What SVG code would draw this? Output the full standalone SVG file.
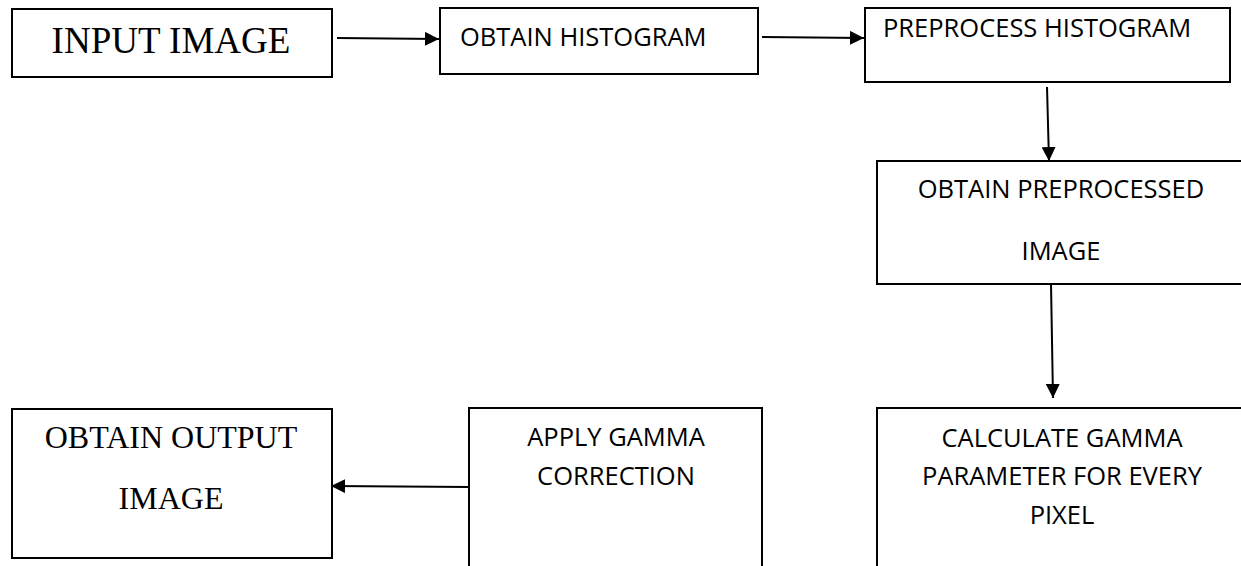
<svg xmlns="http://www.w3.org/2000/svg" width="1241" height="566" viewBox="0 0 1241 566">
<style>
.box{fill:#fff;stroke:#000;stroke-width:2}
.serif{font-family:"Liberation Serif","Times New Roman",serif;fill:#000}
.sans{font-family:"Open Sans","Liberation Sans",sans-serif;font-size:25.5px;fill:#000}
.conn{stroke:#000;stroke-width:2;fill:none;marker-end:url(#ah)}
</style>
<defs>
<marker id="ah" markerUnits="userSpaceOnUse" markerWidth="16" markerHeight="14" refX="14" refY="7" orient="auto">
<path d="M0,0 L14,7 L0,14 Z" fill="#000"/>
</marker>
</defs>
<rect width="1241" height="566" fill="#fff"/>
<g id="n1">
<rect class="box" x="12" y="9" width="320" height="68"/>
<text class="serif" x="171" y="53" font-size="37" text-anchor="middle">INPUT IMAGE</text>
</g>
<g id="n2">
<rect class="box" x="440" y="8" width="318" height="66"/>
<text class="sans" x="460" y="46">OBTAIN HISTOGRAM</text>
</g>
<g id="n3">
<rect class="box" x="865" y="8" width="365" height="74"/>
<text class="sans" x="883" y="37">PREPROCESS HISTOGRAM</text>
</g>
<g id="n4">
<rect class="box" x="877" y="161" width="370" height="123"/>
<text class="sans" x="1061" y="198" text-anchor="middle">OBTAIN PREPROCESSED</text>
<text class="sans" x="1061" y="260" text-anchor="middle">IMAGE</text>
</g>
<g id="n5">
<rect class="box" x="877" y="408" width="370" height="170"/>
<text class="sans" x="1062" y="447" text-anchor="middle">CALCULATE GAMMA</text>
<text class="sans" x="1062" y="485" text-anchor="middle">PARAMETER FOR EVERY</text>
<text class="sans" x="1062" y="524" text-anchor="middle">PIXEL</text>
</g>
<g id="n6">
<rect class="box" x="469" y="408" width="293" height="170"/>
<text class="sans" x="616" y="446" text-anchor="middle">APPLY GAMMA</text>
<text class="sans" x="616" y="485" text-anchor="middle">CORRECTION</text>
</g>
<g id="n7">
<rect class="box" x="12" y="409" width="320" height="149"/>
<text class="serif" x="171" y="448" font-size="32" text-anchor="middle">OBTAIN OUTPUT</text>
<text class="serif" x="171" y="509" font-size="32" text-anchor="middle">IMAGE</text>
</g>
<g id="connectors">
<line class="conn" x1="337" y1="38" x2="439" y2="39"/>
<line class="conn" x1="762" y1="37" x2="864" y2="38"/>
<line class="conn" x1="1047" y1="87" x2="1049" y2="161"/>
<line class="conn" x1="1051" y1="284" x2="1053" y2="398"/>
<line class="conn" x1="469" y1="487" x2="331" y2="486"/>
</g>
</svg>
